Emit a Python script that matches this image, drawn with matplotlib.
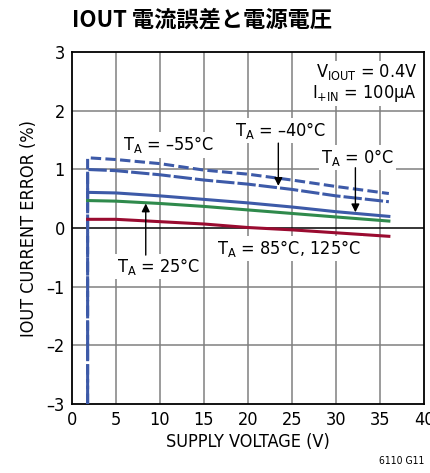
import matplotlib
matplotlib.use("Agg")
import matplotlib.pyplot as plt

# supply voltage (V) and IOUT current error (%) per ambient temperature
vs = [1.8, 5, 10, 15, 20, 25, 30, 36]
err_m55 = [1.20, 1.17, 1.10, 0.99, 0.92, 0.82, 0.71, 0.59]
err_m40 = [1.00, 0.98, 0.91, 0.82, 0.75, 0.66, 0.55, 0.45]
err_0 = [0.61, 0.60, 0.55, 0.49, 0.43, 0.36, 0.28, 0.20]
err_25 = [0.47, 0.46, 0.42, 0.37, 0.31, 0.25, 0.19, 0.12]
err_85 = [0.15, 0.15, 0.11, 0.07, 0.01, -0.03, -0.08, -0.14]
# below the minimum supply the error falls off the scale
drop_v = 1.8
drop_err = -3.0

xticks = [0, 5, 10, 15, 20, 25, 30, 35, 40]
yticks = [-3, -2, -1, 0, 1, 2, 3]

plt.rcParams["font.family"] = ["DejaVu Sans"]
plt.rcParams["font.stretch"] = "condensed"
plt.rcParams["mathtext.fontset"] = "custom"
plt.rcParams["mathtext.rm"] = "DejaVu Sans:stretch=condensed"

blue = "#3d5aa8"
green = "#2f8a4c"
red = "#9a0b30"

fig = plt.figure(figsize=(4.31, 4.73), dpi=100)
ax = fig.add_axes([0.1665, 0.146, 0.8175, 0.7435])

ax.set_xlim(0, 40)
ax.set_ylim(-3, 3)
ax.set_xticks(xticks)
ax.set_yticks(yticks)
ax.set_xticklabels([str(t) for t in xticks])
ax.set_yticklabels([str(t).replace("-", "\u2013") for t in yticks])
ax.tick_params(length=0, labelsize=13, pad=5)

for t in xticks[1:-1]:
    ax.axvline(t, color="#808080", lw=1.1, zorder=1)
for t in yticks[1:-1]:
    ax.axhline(t, color="black" if t == 0 else "#808080", lw=1.1, zorder=1)
for s in ax.spines.values():
    s.set_linewidth(1.3)

lw = 2.2
ax.plot([drop_v] + vs, [drop_err] + err_m55, color=blue, lw=lw,
        dashes=(3.4, 1.4), zorder=3)
ax.plot([drop_v] + vs, [drop_err] + err_m40, color=blue, lw=lw,
        dashes=(6, 1.0), zorder=3)
ax.plot(vs, err_0, color=blue, lw=lw, zorder=3)
ax.plot(vs, err_25, color=green, lw=lw, zorder=3)
ax.plot(vs, err_85, color=red, lw=lw, zorder=3)

box = dict(facecolor="white", edgecolor="none", pad=1.5)
tsize = 13
labels = [
    (11.0, 1.42, "T$_\\mathregular{A}$ = \u201355\u00b0C"),
    (23.7, 1.66, "T$_\\mathregular{A}$ = \u201340\u00b0C"),
    (32.4, 1.21, "T$_\\mathregular{A}$ = 0\u00b0C"),
    (9.9, -0.65, "T$_\\mathregular{A}$ = 25\u00b0C"),
    (24.7, -0.35, "T$_\\mathregular{A}$ = 85\u00b0C, 125\u00b0C"),
]
for x, y, s in labels:
    ax.text(x, y, s, ha="center", va="center", fontsize=tsize,
            bbox=box, zorder=4)
ax.text(39.2, 2.48, "V$_\\mathregular{IOUT}$ = 0.4V\nI$_\\mathregular{+IN}$ = 100\u00b5A",
        ha="right", va="center", fontsize=tsize, linespacing=1.05,
        bbox=box, zorder=4)

arrow = dict(arrowstyle="-|>", color="black", lw=1.0,
             mutation_scale=12, shrinkA=0, shrinkB=0)
ax.annotate("", xy=(23.45, 0.72), xytext=(23.45, 1.45),
            arrowprops=arrow, zorder=5)
ax.annotate("", xy=(32.2, 0.27), xytext=(32.2, 1.03),
            arrowprops=arrow, zorder=5)
ax.annotate("", xy=(8.4, 0.42), xytext=(8.4, -0.46),
            arrowprops=arrow, zorder=5)

ax.set_xlabel("SUPPLY VOLTAGE (V)", fontsize=13, labelpad=3)
ax.set_ylabel("IOUT CURRENT ERROR (%)", fontsize=13, labelpad=6)

fig.text(0.167, 0.958, "IOUT 電流誤差と電源電圧", ha="left", va="center",
         fontsize=16, fontweight="bold", fontstretch="normal",
         family=["Noto Sans CJK JP", "DejaVu Sans"])
fig.text(0.984, 0.015, "6110 G11", ha="right", va="bottom", fontsize=7.5)

fig.savefig("out.png", dpi=100)
